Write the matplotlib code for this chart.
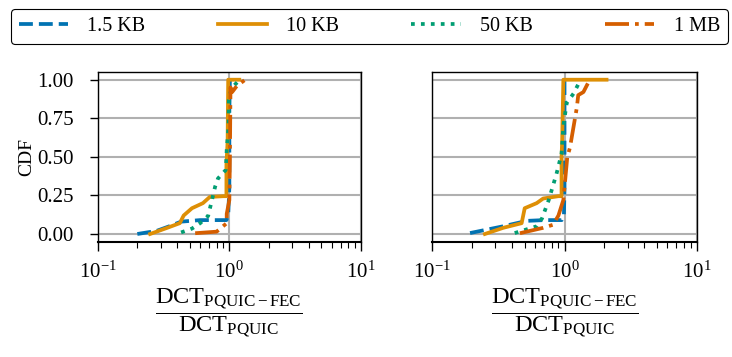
import matplotlib
matplotlib.use("Agg")
import matplotlib.pyplot as plt
from matplotlib.ticker import LogLocator, NullFormatter

plt.rcParams['font.family'] = ['Liberation Serif', 'DejaVu Serif']
plt.rcParams['mathtext.fontset'] = 'custom'
plt.rcParams['mathtext.rm'] = 'Liberation Serif'
plt.rcParams['mathtext.it'] = 'Liberation Serif:italic'
plt.rcParams['mathtext.bf'] = 'Liberation Serif:bold'
plt.rcParams['font.size'] = 14

labels = ["1.5 KB", "10 KB", "50 KB", "1 MB"]
colors = ["#0173b2", "#de8f05", "#029e73", "#d55e00"]
styles = ["--", "-", ":", "-."]

yticks = [0.00, 0.25, 0.50, 0.75, 1.00]
ytick_labels = ["0.00", "0.25", "0.50", "0.75", "1.00"]

# Left panel
left_x_15kb = [0.2, 0.28, 0.35, 0.43, 0.6, 0.95, 0.98, 1.0, 1.0, 1.0, 1.01]
left_y_15kb = [0.0, 0.02, 0.05, 0.08, 0.09, 0.09, 0.12, 0.3, 0.5, 0.8, 1.0]
left_x_10kb = [0.25, 0.33, 0.42, 0.45, 0.52, 0.63, 0.71, 0.9, 0.95, 0.95, 0.97, 0.98, 1.19]
left_y_10kb = [0.0, 0.037, 0.07, 0.12, 0.167, 0.2, 0.24, 0.245, 0.245, 0.45, 0.6, 1.0, 1.0]
left_x_50kb = [0.43, 0.52, 0.6, 0.69, 0.78, 0.82, 0.94, 0.955, 0.985, 0.99, 1.04, 1.2]
left_y_50kb = [0.01, 0.035, 0.07, 0.117, 0.307, 0.36, 0.415, 0.545, 0.70, 0.87, 0.946, 1.0]
left_x_1mb = [0.55, 0.8, 0.955, 0.955, 1.0, 1.01, 1.02, 1.05, 1.14, 1.32]
left_y_1mb = [0.005, 0.015, 0.07, 0.13, 0.22, 0.5, 0.95, 0.92, 0.96, 1.0]

# Right panel
right_x_15kb = [0.193, 0.344, 0.518, 0.7, 0.953, 0.99, 1.0, 1.0, 1.0, 1.0]
right_y_15kb = [0.006, 0.05, 0.085, 0.09, 0.09, 0.12, 0.3, 0.5, 0.8, 1.0]
right_x_10kb = [0.25, 0.344, 0.474, 0.50, 0.616, 0.69, 0.898, 0.95, 0.95, 0.96, 0.98, 2.08]
right_y_10kb = [0.0, 0.04, 0.07, 0.167, 0.2, 0.23, 0.245, 0.245, 0.5, 0.6, 1.0, 1.0]
right_x_50kb = [0.42, 0.616, 0.675, 0.76, 0.80, 0.87, 0.95, 0.98, 1.04, 1.17, 1.27]
right_y_50kb = [0.006, 0.05, 0.1, 0.22, 0.285, 0.39, 0.52, 0.70, 0.85, 0.91, 0.97]
right_x_1mb = [0.46, 0.69, 0.82, 0.90, 0.98, 1.05, 1.10, 1.24, 1.27, 1.39, 1.51, 1.51]
right_y_1mb = [0.005, 0.04, 0.06, 0.12, 0.22, 0.5, 0.56, 0.82, 0.9, 0.92, 0.98, 1.0]

panels = [
    [(left_x_15kb, left_y_15kb), (left_x_10kb, left_y_10kb),
     (left_x_50kb, left_y_50kb), (left_x_1mb, left_y_1mb)],
    [(right_x_15kb, right_y_15kb), (right_x_10kb, right_y_10kb),
     (right_x_50kb, right_y_50kb), (right_x_1mb, right_y_1mb)],
]

fig = plt.figure(figsize=(7.32, 3.57), dpi=100)
W, H = 732, 357
axes_px = [(97.7, 72, 361, 241.7), (432.3, 72, 696.7, 241.7)]
axes = []
for (x0, y0, x1, y1) in axes_px:
    axes.append(fig.add_axes([x0 / W, 1 - y1 / H, (x1 - x0) / W, (y1 - y0) / H]))

xlabel = r"$\dfrac{\mathrm{DCT}_{\mathrm{PQUIC-FEC}}}{\mathrm{DCT}_{\mathrm{PQUIC}}}$"

handles = []
for i, ax in enumerate(axes):
    for j, (xs, ys) in enumerate(panels[i]):
        ln, = ax.plot(xs, ys, color=colors[j], linestyle=styles[j], lw=2.7,
                      label=labels[j], zorder=3)
        if i == 0:
            handles.append(ln)
    ax.set_xscale('log')
    ax.set_xlim(0.1, 10)
    ax.set_ylim(-0.05, 1.05)
    ax.set_xticks([0.1, 1, 10])
    ax.set_xticklabels([r"$10^{-1}$", r"$10^{0}$", r"$10^{1}$"])
    ax.xaxis.set_minor_locator(LogLocator(base=10, subs=range(2, 10)))
    ax.xaxis.set_minor_formatter(NullFormatter())
    ax.set_yticks(yticks)
    ax.grid(True, which='major', color='#b0b0b0', lw=1.5, zorder=0)
    ax.set_axisbelow(True)
    ax.tick_params(axis='y', which='major', direction='out', length=5.5, width=1.0,
                   labelsize=15, pad=12)
    ax.tick_params(axis='x', which='major', direction='out', length=6.5, width=1.0,
                   labelsize=15, pad=8)
    ax.tick_params(axis='x', which='minor', direction='out', length=4.5, width=0.8)
    for s in ax.spines.values():
        s.set_linewidth(1.0)
    ax.spines['bottom'].set_linewidth(1.5)
    ax.set_xlabel(xlabel, fontsize=17.5, labelpad=3)
    if i == 0:
        ax.set_yticklabels(ytick_labels)
        ax.set_ylabel("CDF", fontsize=14, labelpad=1)
    else:
        ax.set_yticklabels([])
        ax.tick_params(axis='y', which='both', length=0)

leg = fig.legend(handles=handles, labels=labels, loc='lower left', ncol=4,
                 bbox_to_anchor=(10.5 / W, 1 - 44 / H, 717.5 / W, 40.7 / H), mode='expand',
                 fontsize=14.5, frameon=True, fancybox=True, handlelength=2.45,
                 handletextpad=0.95, borderaxespad=0, edgecolor='black', framealpha=1)
leg.get_frame().set_linewidth(0.8)

fig.savefig("out.png", dpi=100)
